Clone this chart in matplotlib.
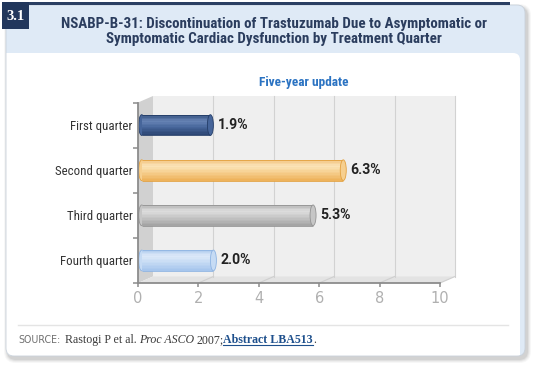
import numpy as np
import matplotlib
matplotlib.use('Agg')
import matplotlib.pyplot as plt
from matplotlib import font_manager
from matplotlib.patches import Rectangle, Polygon, Ellipse, FancyBboxPatch
from matplotlib.transforms import offset_copy
from matplotlib.colors import to_rgb

# ---- data ----
categories = ['First quarter', 'Second quarter', 'Third quarter', 'Fourth quarter']
values = [1.9, 6.3, 5.3, 2.0]
value_labels = ['1.9%', '6.3%', '5.3%', '2.0%']
xticks = [0, 2, 4, 6, 8, 10]
title_lines = ['NSABP-B-31: Discontinuation of Trastuzumab Due to Asymptomatic or',
               'Symptomatic Cardiac Dysfunction by Treatment Quarter']
subtitle = 'Five-year update'
fig_no = '3.1'

# cylinder shades per bar: top, highlight, mid, bottom, edge
shades = [
    ['#34507f', '#6784b5', '#46659a', '#2b4471', '#243d68'],
    ['#f1c27c', '#fbe4b9', '#f6cf8f', '#edb057', '#e3a13f'],
    ['#b1b1b1', '#dedede', '#c6c6c6', '#a2a2a2', '#949494'],
    ['#b2cdee', '#dde9f9', '#c6dbf4', '#a4c4ec', '#8eb4e3'],
]

names = {f.name for f in font_manager.fontManager.ttflist}
narrow = 'Lato'
for cand in ['Liberation Sans Narrow', 'Roboto Condensed', 'Lato']:
    if cand in names:
        narrow = cand
        break

W, H = 540, 371
fig = plt.figure(figsize=(W / 100, H / 100), dpi=100)
renderer = fig.canvas.get_renderer()


def fit(t, width_px):
    w = t.get_window_extent(renderer).width
    t.set_fontsize(t.get_fontsize() * width_px / w)
    return t.get_fontsize()


bg = fig.add_axes([0, 0, 1, 1])
bg.set_xlim(0, W)
bg.set_ylim(H, 0)
bg.axis('off')

# card shadow + card
for k, a in enumerate([0.03, 0.04, 0.05, 0.06]):
    s = 4 - k
    bg.add_patch(FancyBboxPatch((6 - s + 2, 5 - s + 3), 519 + 2 * s, 351 + 2 * s,
                                boxstyle='round,pad=0,rounding_size=%d' % (8 + s),
                                fc='black', ec='none', alpha=a))
bg.add_patch(FancyBboxPatch((6, 5), 519, 351, boxstyle='round,pad=0,rounding_size=8',
                            fc='#dfeaf6', ec='none'))
bg.add_patch(FancyBboxPatch((6, 53), 514, 303, boxstyle='round,pad=0,rounding_size=7',
                            fc='white', ec='none'))
bg.add_patch(Rectangle((6, 53), 12, 12, fc='white', ec='none'))
bg.add_patch(Rectangle((508, 344), 12, 12, fc='white', ec='none'))
bg.add_patch(FancyBboxPatch((6, 5), 519, 351, boxstyle='round,pad=0,rounding_size=8',
                            fc='none', ec='#c9d1da', lw=0.6))
bg.add_patch(Rectangle((29, 1.5), 481, 3.5, fc='#2b3f63', ec='none'))
bg.add_patch(Rectangle((1.5, 1.5), 27.5, 27.5, fc='#22375c', ec='none'))
bg.text(15.5, 16.5, fig_no, color='white', family='Liberation Serif', fontweight='bold',
        fontsize=10.5, ha='center', va='center')

# titles
t1 = bg.text(273.8, 23.6, title_lines[0], ha='center', va='center', color='#2b3d5e',
             family=narrow, fontweight='bold', fontsize=11)
fs = fit(t1, 423)
bg.text(273.8, 38.8, title_lines[1], ha='center', va='center', color='#2b3d5e',
        family=narrow, fontweight='bold', fontsize=fs)
st = bg.text(303.8, 82.8, subtitle, ha='center', va='center', color='#2b73c2',
             family=narrow, fontweight='bold', fontsize=10)
fit(st, 90)

# 3d box (front axis 0..10 -> X0..X0+10*SX, depth DX/DY)
X0, SX, DX, DY, YT, YB = 138, 30.2, 15, 6.5, 102.5, 283
XR = X0 + 10 * SX
bg.add_patch(Rectangle((X0 + DX, YT - DY), 10 * SX, YB - YT, fc='#efefef', ec='none'))
bg.add_patch(Polygon([(X0, YT), (X0 + DX, YT - DY), (X0 + DX, YB - DY), (X0, YB)],
                     fc='#d1d1d1', ec='none'))
bg.add_patch(Polygon([(X0, YB), (X0 + DX, YB - DY), (XR + DX, YB - DY), (XR, YB)],
                     fc='#e3e3e3', ec='none'))
for t in xticks[1:]:
    xp = X0 + t * SX
    bg.plot([xp + DX, xp + DX], [YT - DY, YB - DY], color='#d2d2d2', lw=0.8)
    bg.plot([xp, xp + DX], [YB, YB - DY], color='#cfcfcf', lw=0.8)

# data axes sits on the front face
ax = fig.add_axes([X0 / W, 1 - YB / H, 10 * SX / W, (YB - YT) / H])
ax.patch.set_visible(False)
ax.set_xlim(0, 10)
ax.set_ylim(3.5, -0.5)
for s in ['top', 'right']:
    ax.spines[s].set_visible(False)
for s in ['left', 'bottom']:
    ax.spines[s].set_color('#8c8c8c')
    ax.spines[s].set_linewidth(1.3)
ax.set_xticks(xticks)
ax.tick_params(axis='x', length=3, width=1.1, color='#8c8c8c', labelcolor='#b0b0b0',
               labelsize=10.5, pad=3)
ax.set_yticks(range(len(categories)))
ax.set_yticklabels(categories, family=narrow, color='#333333')
ax.set_yticks(np.arange(len(categories) + 1) - 0.5, minor=True)
ax.tick_params(axis='y', which='major', length=0, pad=4)
ax.tick_params(axis='y', which='minor', length=3.5, width=1.1, color='#8c8c8c')
for lab in ax.get_xticklabels():
    lab.set_family('DejaVu Sans')

fig.canvas.draw()
labs = ax.get_yticklabels()
w2 = labs[1].get_window_extent(renderer).width
for lab in labs:
    lab.set_fontsize(lab.get_fontsize() * 77 / w2)

# cylinders
shift = offset_copy(ax.transData, fig=fig, x=DX, y=0, units='dots')
bh = 20.7 / ((YB - YT) / 4)      # bar thickness in category units
ew = 6 / SX                       # end-cap width in value units
wall = 11.3 / SX                  # bar starts on the side wall
n = 14
stops = [0, 0.3, 0.6, 1.0]
vlabs = []
for i, (v, sh) in enumerate(zip(values, shades)):
    cols = np.array([to_rgb(c) for c in sh[:4]])
    ax.add_patch(Ellipse((-wall, i), ew, bh, fc=sh[2], ec=sh[4], lw=0.6,
                         transform=shift, zorder=2))
    for k in range(n):
        tt = (k + 0.5) / n
        c = [np.interp(tt, stops, cols[:, j]) for j in range(3)]
        ax.barh(i - bh / 2 + tt * bh, v + wall, left=-wall, height=bh / n * 1.05,
                color=c, transform=shift, zorder=3, lw=0)
    ax.hlines([i - bh / 2, i + bh / 2], -wall, v, color=sh[4], lw=0.6,
              transform=shift, zorder=4)
    ax.add_patch(Ellipse((v, i), ew, bh, fc=sh[2], ec=sh[4], lw=0.6,
                         transform=shift, zorder=5))
    vlabs.append(ax.text(v, i, value_labels[i], va='center', ha='left', color='#222222',
                         family='Roboto', fontweight='bold', fontsize=10,
                         transform=offset_copy(ax.transData, fig=fig, x=DX + 7, y=0,
                                               units='dots')))
vfs = fit(vlabs[1], 30.5)
for t in vlabs:
    t.set_fontsize(vfs)

# source line
bg.plot([18, 508], [325, 325], color='#e4e4e4', lw=1)
x = 18
yb = 343
pieces = [('SOURCE:', 'DejaVu Sans', 'normal', 'normal', '#707070', 6.7, 4.5),
          ('Rastogi P et al.', 'Liberation Serif', 'normal', 'normal', '#3a3a3a', 8.6, 2.4),
          ('Proc ASCO', 'Liberation Serif', 'normal', 'italic', '#3a3a3a', 8.6, 2.4),
          ('2007;', 'Liberation Serif', 'normal', 'normal', '#3a3a3a', 8.6, 0),
          ('Abstract LBA513', 'Liberation Serif', 'bold', 'normal', '#1d4f8c', 8.6, 0),
          ('.', 'Liberation Serif', 'normal', 'normal', '#3a3a3a', 8.6, 0)]
for s, fam, fw, fst, col, size, gap in pieces:
    t = bg.text(x, yb, s, family=fam, fontweight=fw, fontstyle=fst, color=col,
                fontsize=size, va='baseline', ha='left')
    if s == 'SOURCE:':
        fit(t, 42)
    w = t.get_window_extent(renderer).width
    if s.startswith('Abstract'):
        bg.plot([x, x + w], [yb + 1.5, yb + 1.5], color=col, lw=0.8)
    x += w + gap

fig.savefig('out.png', dpi=100)
